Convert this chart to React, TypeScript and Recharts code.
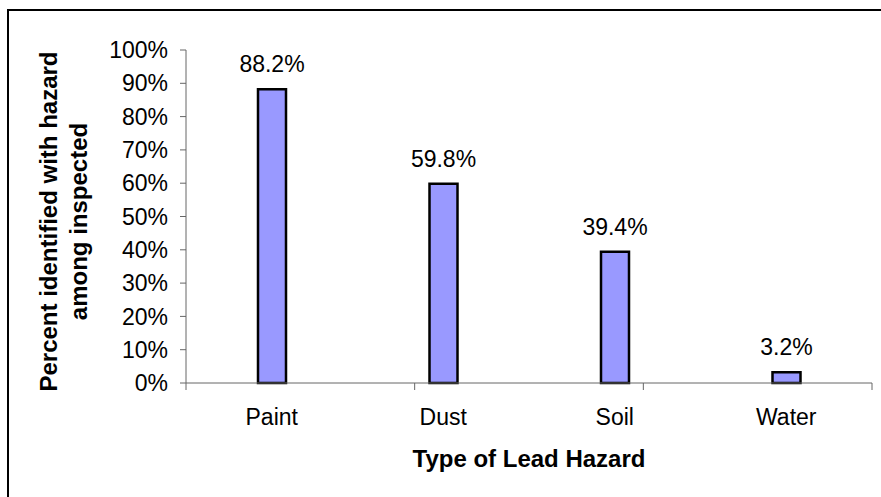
import { BarChart, Bar, XAxis, YAxis, LabelList, Label } from "recharts";

const categories = ["Paint", "Dust", "Soil", "Water"];
const percents = [88.2, 59.8, 39.4, 3.2];
const yTicks = [0, 10, 20, 30, 40, 50, 60, 70, 80, 90, 100];
const boundaryTicks = [0, 1, 2, 3, 4];

const data = categories.map((name, i) => ({ name, value: percents[i] }));

const FONT = "'Liberation Sans', Arial, sans-serif";
const AXIS = "#666";

function YTitle(props: any) {
    const { viewBox } = props;
    const cy = viewBox.y + viewBox.height / 2 + 5;
    return (
        <text
            transform="rotate(-90)"
            textAnchor="middle"
            fontFamily={FONT}
            fontSize={24}
            fontWeight="bold"
            fill="#000"
        >
            <tspan x={-cy} y={48}>
                Percent identified with hazard
            </tspan>
            <tspan x={-cy} y={78}>
                among inspected
            </tspan>
        </text>
    );
}

export default function App() {
    return (
        <div
            style={{
                position: "absolute",
                left: 7,
                top: 9,
                width: 874,
                height: 488,
                borderTop: "2px solid #000",
                borderLeft: "2px solid #000",
                boxSizing: "border-box",
                background: "#fff",
            }}
        >
            <BarChart
                width={872}
                height={486}
                data={data}
                margin={{ top: 39, right: 9, bottom: 0, left: 0 }}
                barSize={28}
            >
                {/* axis line + tick marks between categories (Excel style) */}
                <XAxis
                    xAxisId="a"
                    type="number"
                    domain={[0, 4]}
                    allowDataOverflow
                    ticks={boundaryTicks}
                    height={1}
                    axisLine={{ stroke: AXIS }}
                    tickLine={{ stroke: AXIS }}
                    tickSize={7}
                    tickFormatter={() => ""}
                />
                <XAxis
                    xAxisId="b"
                    dataKey="name"
                    height={113}
                    axisLine={false}
                    tickLine={false}
                    tickSize={0}
                    tickMargin={25}
                    tick={{ fill: "#000", fontSize: 23, fontFamily: FONT }}
                >
                    <Label
                        value="Type of Lead Hazard"
                        position="insideBottom"
                        offset={30}
                        fill="#000"
                        fontSize={24}
                        fontWeight="bold"
                        fontFamily={FONT}
                    />
                </XAxis>
                <YAxis
                    width={177}
                    domain={[0, 100]}
                    ticks={yTicks}
                    tickFormatter={(v) => `${v}%`}
                    axisLine={{ stroke: AXIS }}
                    tickLine={{ stroke: AXIS }}
                    tickSize={6}
                    tickMargin={12}
                    tick={{ fill: "#000", fontSize: 23, fontFamily: FONT }}
                    label={<YTitle />}
                />
                <Bar
                    xAxisId="b"
                    dataKey="value"
                    fill="#9999FF"
                    stroke="#000"
                    strokeWidth={2.5}
                    isAnimationActive={false}
                >
                    <LabelList
                        dataKey="value"
                        position="top"
                        offset={17}
                        formatter={(v: any) => `${Number(v).toFixed(1)}%`}
                        fill="#000"
                        fontSize={23}
                        fontFamily={FONT}
                    />
                </Bar>
            </BarChart>
        </div>
    );
}
